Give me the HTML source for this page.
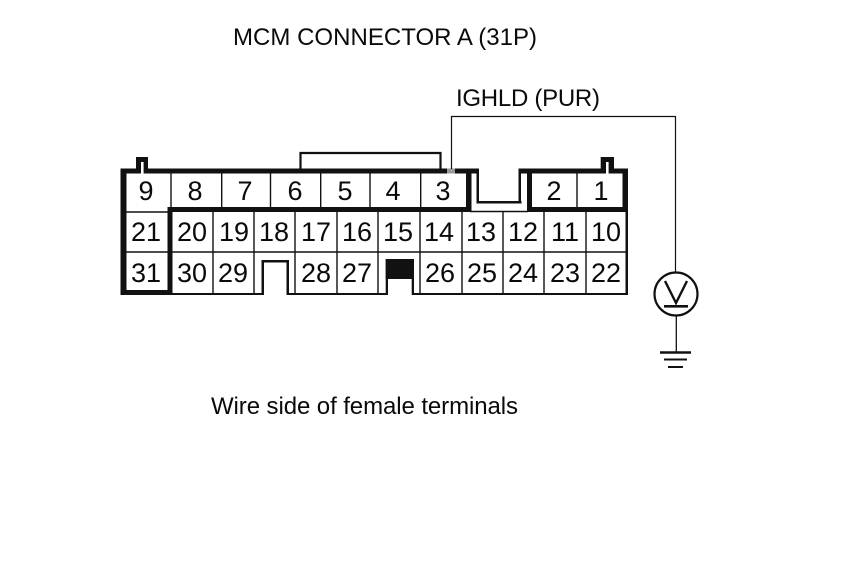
<!DOCTYPE html>
<html>
<head>
<meta charset="utf-8">
<style>
html,body{margin:0;padding:0;background:#fff}
svg{display:block}
text{font-family:"Liberation Sans",sans-serif;fill:#0a0a0a}
.n{font-size:27px;text-anchor:middle}
.t{font-size:24px}
</style>
</head>
<body>
<svg width="860" height="577" viewBox="0 0 860 577" xmlns="http://www.w3.org/2000/svg">
<rect width="860" height="577" fill="#fff"/>
<text class="t" x="233" y="45" textLength="304">MCM CONNECTOR A (31P)</text>
<text class="t" x="456" y="106" textLength="144">IGHLD (PUR)</text>
<text class="t" x="211" y="414" textLength="307">Wire side of female terminals</text>

<!-- thin grid -->
<g stroke="#111" stroke-width="1.4" fill="none">
<path d="M171 173V208M221.7 173V208M270.5 173V208M320.7 173V208M370 173V208M420.7 173V208M577 173V208"/>
<path d="M213 212V293M254 212V293M295 212V293M337 212V293M378 212V293M420 212V293M462 212V293M503 212V293M544 212V293M586 212V293"/>
<path d="M123 252H627"/>
<path d="M123 212H170"/>
<path d="M470 211.5H528"/>
</g>

<!-- outer and thick borders -->
<g fill="#111">
<rect x="120.5" y="168.5" width="6" height="126.5"/>
<rect x="120.5" y="168.5" width="350.5" height="5"/>
<rect x="120.5" y="290" width="52" height="5"/>
<rect x="167.5" y="207" width="5" height="88"/>
<rect x="167.5" y="207" width="304" height="5"/>
<rect x="466" y="168.5" width="5.5" height="43.5"/>
<rect x="471" y="168.5" width="8" height="5"/>
<rect x="476.5" y="168.5" width="2.5" height="35"/>
<rect x="476.5" y="201" width="45" height="2.5"/>
<rect x="518.5" y="168.5" width="2.5" height="35"/>
<rect x="518.5" y="168.5" width="109.5" height="5"/>
<rect x="527" y="168.5" width="5" height="43.5"/>
<rect x="527" y="207" width="101" height="5"/>
<rect x="622.5" y="168.5" width="5.5" height="43.5"/>
<rect x="625.5" y="207" width="2.5" height="88"/>
<!-- bottom edge -->
<rect x="170" y="293" width="94" height="2"/>
<rect x="287" y="293" width="101" height="2"/>
<rect x="412" y="293" width="216" height="2"/>
<!-- slot under 18 -->
<rect x="261.5" y="260" width="2.5" height="35"/>
<rect x="286.5" y="260" width="2.5" height="35"/>
<rect x="261.5" y="260" width="27.5" height="2.5"/>
<!-- key at 15 -->
<rect x="385.7" y="259" width="28.3" height="20"/>
<rect x="385.7" y="259" width="2.3" height="36"/>
<rect x="411.7" y="259" width="2.3" height="36"/>
<!-- tabs -->
<rect x="136" y="157" width="12" height="14"/>
<rect x="600.7" y="157" width="13.3" height="14"/>
<rect x="141" y="162" width="2.6" height="11.5" fill="#fff"/>
<rect x="606" y="162" width="2.6" height="11.5" fill="#fff"/>
</g>

<!-- top latch -->
<path d="M300.5 169V153H440.5V169" fill="none" stroke="#111" stroke-width="2.2"/>

<!-- wire -->
<rect x="447" y="168.5" width="8" height="5" fill="#999"/>
<path d="M451.5 169V116.5H675.5V272" fill="none" stroke="#111" stroke-width="1.2"/>

<!-- voltmeter -->
<circle cx="676" cy="294" r="21.5" fill="#fff" stroke="#111" stroke-width="2.2"/>
<path d="M665 281L676 303L687 281" fill="none" stroke="#111" stroke-width="2.4"/>
<path d="M664 306.3H688" stroke="#111" stroke-width="2.6"/>
<path d="M676.3 316V352" stroke="#111" stroke-width="1.3"/>
<path d="M660 352.5H691" stroke="#111" stroke-width="2.6"/>
<path d="M664 359.5H687" stroke="#111" stroke-width="2"/>
<path d="M668 367H683" stroke="#111" stroke-width="2"/>

<g>
<text class="n" x="146" y="200">9</text>
<text class="n" x="195" y="200">8</text>
<text class="n" x="245" y="200">7</text>
<text class="n" x="295" y="200">6</text>
<text class="n" x="345" y="200">5</text>
<text class="n" x="393" y="200">4</text>
<text class="n" x="443" y="200">3</text>
<text class="n" x="554" y="200">2</text>
<text class="n" x="601" y="200">1</text>

<text class="n" x="146" y="241">21</text>
<text class="n" x="192" y="241">20</text>
<text class="n" x="234" y="241">19</text>
<text class="n" x="274" y="241">18</text>
<text class="n" x="316" y="241">17</text>
<text class="n" x="357" y="241">16</text>
<text class="n" x="398" y="241">15</text>
<text class="n" x="439" y="241">14</text>
<text class="n" x="481" y="241">13</text>
<text class="n" x="523" y="241">12</text>
<text class="n" x="565" y="241">11</text>
<text class="n" x="606" y="241">10</text>

<text class="n" x="146" y="282">31</text>
<text class="n" x="192" y="282">30</text>
<text class="n" x="233" y="282">29</text>
<text class="n" x="316" y="282">28</text>
<text class="n" x="357" y="282">27</text>
<text class="n" x="440" y="282">26</text>
<text class="n" x="482" y="282">25</text>
<text class="n" x="523" y="282">24</text>
<text class="n" x="565" y="282">23</text>
<text class="n" x="606" y="282">22</text>
</g>
</svg>
</body>
</html>
